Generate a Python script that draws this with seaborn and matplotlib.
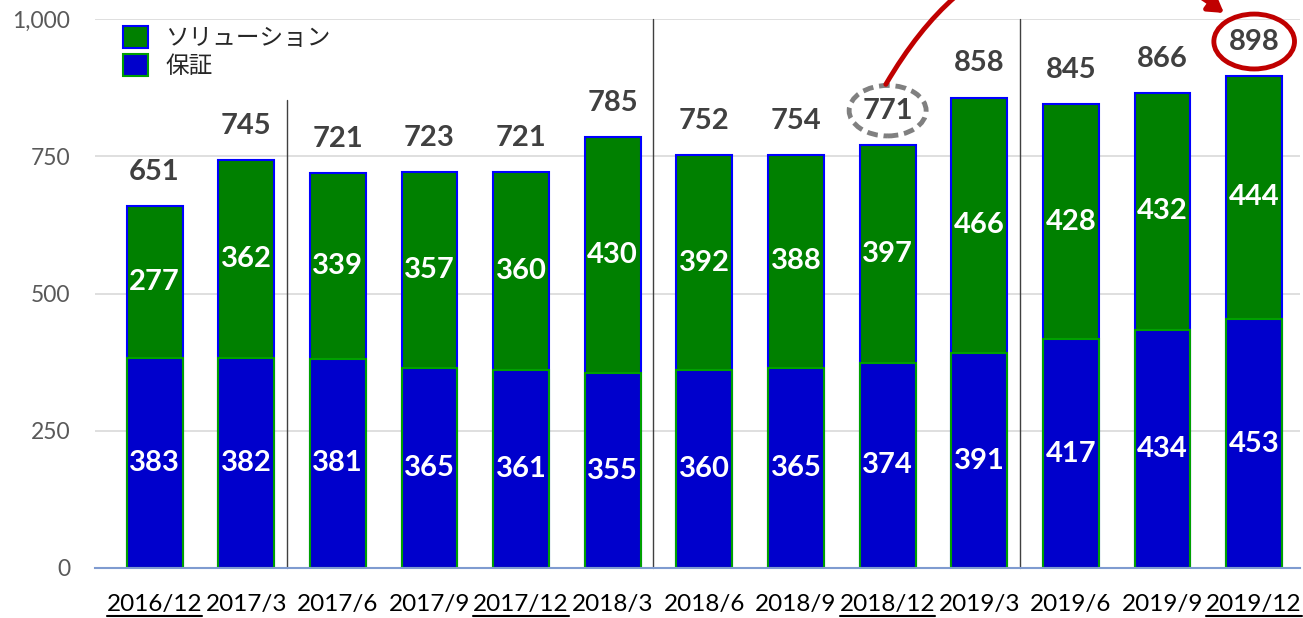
import matplotlib
matplotlib.use("Agg")
import matplotlib.pyplot as plt
import seaborn as sns
import pandas as pd
from matplotlib.patches import Patch, Ellipse, FancyArrowPatch
from matplotlib.lines import Line2D

categories = ["2016/12", "2017/3", "2017/6", "2017/9", "2017/12", "2018/3", "2018/6",
              "2018/9", "2018/12", "2019/3", "2019/6", "2019/9", "2019/12"]
hosho = [383, 382, 381, 365, 361, 355, 360, 365, 374, 391, 417, 434, 453]
solution = [277, 362, 339, 357, 360, 430, 392, 388, 397, 466, 428, 432, 444]
totals = [651, 745, 721, 723, 721, 785, 752, 754, 771, 858, 845, 866, 898]
yticks = [0, 250, 500, 750, 1000]
ytick_labels = ["0", "250", "500", "750", "1,000"]
legend_labels = ["ソリューション", "保証"]
underlined = ["2016/12", "2017/12", "2018/12", "2019/12"]
separators_after = ["2017/3", "2018/3", "2019/3"]

GREEN = "#008000"
BLUE = "#0000CC"
EDGE_BLUE = "#0000FF"
EDGE_GREEN = "#00A000"
DARK = "#404040"
RED = "#C00000"

sns.set_style("white")
plt.rcParams["font.family"] = ["Lato", "Noto Sans CJK JP", "DejaVu Sans"]

df = pd.DataFrame({"cat": categories, "hosho": hosho, "solution": solution})
df["stack"] = df["hosho"] + df["solution"]

fig = plt.figure(figsize=(13.03, 6.18), dpi=100)
ax = fig.add_axes([95 / 1303, 50 / 618, 1205 / 1303, 549 / 618])

sns.barplot(data=df, x="cat", y="stack", color=GREEN, saturation=1, width=0.61,
            edgecolor=EDGE_BLUE, linewidth=1.5, ax=ax, zorder=2)
sns.barplot(data=df, x="cat", y="hosho", color=BLUE, saturation=1, width=0.61,
            edgecolor=EDGE_GREEN, linewidth=1.5, ax=ax, zorder=3)

ax.set_ylim(0, 1000)
ax.set_xlim(-0.65, len(categories) - 0.5)
ax.set_yticks(yticks)
ax.set_yticklabels(ytick_labels, color="#595959", fontsize=16.5)
ax.tick_params(axis="y", length=0, pad=18)
ax.tick_params(axis="x", length=0, pad=19, labelsize=17.5, labelcolor="black")
ax.set_xlabel("")
ax.set_ylabel("")
for s in ["left", "right", "top"]:
    ax.spines[s].set_visible(False)
ax.spines["bottom"].set_color("#7F9BD0")
ax.spines["bottom"].set_linewidth(1.5)
ax.spines["bottom"].set_zorder(5)
ax.grid(axis="y", color="#D9D9D9", linewidth=1.2, zorder=0)
ax.set_axisbelow(True)

# segment labels
for i, (h, s) in enumerate(zip(hosho, solution)):
    ax.text(i, h / 2, str(h), ha="center", va="center", color="white",
            fontsize=21, fontweight="bold", zorder=6)
    ax.text(i, h + s / 2, str(s), ha="center", va="center", color="white",
            fontsize=21, fontweight="bold", zorder=6)

# total labels
label_pos = []
for i, (t, h, s) in enumerate(zip(totals, hosho, solution)):
    y = h + s + 62
    label_pos.append(y)
    ax.text(i, y, str(t), ha="center", va="center", color=DARK,
            fontsize=21, fontweight="bold", zorder=6)

# separators
for k, c in enumerate(separators_after):
    i = categories.index(c)
    top = 852 if k == 0 else 1000
    ax.add_line(Line2D([i + 0.44, i + 0.44], [0, top], color=DARK, linewidth=1,
                       clip_on=False, zorder=4))

# highlight ellipses
i771 = categories.index("2018/12")
i898 = categories.index("2019/12")
ax.add_patch(Ellipse((i771, label_pos[i771]), 0.84, 92, fill=False, edgecolor="#808080",
                     linewidth=3.5, linestyle=(0, (2.2, 1.2)), clip_on=False, zorder=7))
ax.add_patch(Ellipse((i898, label_pos[i898]), 0.88, 100, fill=False, edgecolor=RED,
                     linewidth=3.5, clip_on=False, zorder=7))
arrow = FancyArrowPatch((i771 - 0.02, label_pos[i771] + 48),
                        (i898 - 0.33, label_pos[i898] + 52),
                        connectionstyle="arc3,rad=-0.55", arrowstyle="-|>,head_length=9,head_width=5.5",
                        color=RED, linewidth=3.5, clip_on=False, zorder=7,
                        shrinkA=0, shrinkB=0)
ax.add_patch(arrow)

# legend
handles = [Patch(facecolor=GREEN, edgecolor=EDGE_BLUE, linewidth=1.5),
           Patch(facecolor=BLUE, edgecolor=EDGE_GREEN, linewidth=1.5)]
leg = fig.legend(handles, legend_labels, loc="upper left",
                 bbox_to_anchor=(123 / 1303, 1 - 26 / 618), frameon=False,
                 fontsize=17, handlelength=1.05, handleheight=1.05, handletextpad=0.75,
                 labelspacing=0.2, borderpad=0, borderaxespad=0)
for t in leg.get_texts():
    t.set_color("#262626")

# underline selected tick labels
fig.canvas.draw()
renderer = fig.canvas.get_renderer()
for lbl in ax.get_xticklabels():
    if lbl.get_text() in underlined:
        bb = lbl.get_window_extent(renderer)
        y = bb.y0 - 1
        fig.add_artist(Line2D([bb.x0 / fig.bbox.width, bb.x1 / fig.bbox.width],
                              [y / fig.bbox.height, y / fig.bbox.height],
                              color="black", linewidth=1.5, transform=fig.transFigure))

fig.savefig("out.png", dpi=100)
